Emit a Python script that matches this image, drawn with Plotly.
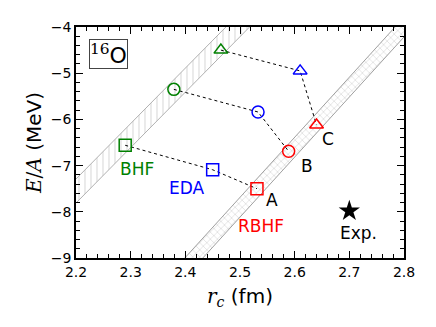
import plotly.graph_objects as go

# r_c (fm) and E/A (MeV) for the three shapes (square, circle, triangle)
bhf_r = [2.290, 2.379, 2.465]
bhf_e = [-6.56, -5.35, -4.50]
eda_r = [2.450, 2.533, 2.610]
eda_e = [-7.09, -5.84, -4.95]
rbhf_r = [2.531, 2.589, 2.640]
rbhf_e = [-7.50, -6.69, -6.12]
exp_r = [2.70]
exp_e = [-7.98]

symbols = ["square-open", "circle-open", "triangle-up-open"]

# Coester-type bands: r where each edge meets E=-9, and slope dE/dr
bhf_band_r0 = [2.0575, 2.1008]
bhf_band_slope = 12.0
rbhf_band_r0 = [2.399, 2.432]
rbhf_band_slope = 13.0


def band_polygon(r0, slope):
    r_lo, r_hi = r0
    # edges run from E=-10 up to E=0, the axes clip them
    xs = [r_lo - 1 / slope, r_lo + 9 / slope, r_hi + 9 / slope, r_hi - 1 / slope, r_lo - 1 / slope]
    ys = [-10, 0, 0, -10, -10]
    return xs, ys


fig = go.Figure()

bx, by = band_polygon(bhf_band_r0, bhf_band_slope)
fig.add_trace(go.Scatter(x=bx, y=by, mode="lines", fill="toself",
                         line=dict(color="#b0b0b0", width=1),
                         fillcolor="white",
                         fillpattern=dict(shape="|", fgcolor="#bbbbbb", bgcolor="white", size=6, solidity=0.2),
                         showlegend=False, hoverinfo="skip"))
rx, ry = band_polygon(rbhf_band_r0, rbhf_band_slope)
fig.add_trace(go.Scatter(x=rx, y=ry, mode="lines", fill="toself",
                         line=dict(color="#a0a0a0", width=1),
                         fillcolor="white",
                         fillpattern=dict(shape="x", fgcolor="#a0a0a0", bgcolor="white", size=5, solidity=0.2),
                         showlegend=False, hoverinfo="skip"))

# dotted connectors BHF -> EDA -> RBHF
for i in range(3):
    fig.add_trace(go.Scatter(x=[bhf_r[i], eda_r[i], rbhf_r[i]], y=[bhf_e[i], eda_e[i], rbhf_e[i]],
                             mode="lines", line=dict(color="black", width=1, dash="dot"),
                             showlegend=False, hoverinfo="skip"))

for rr, ee, col in [(bhf_r, bhf_e, "#008000"), (eda_r, eda_e, "#0000ff"), (rbhf_r, rbhf_e, "#ff0000")]:
    fig.add_trace(go.Scatter(x=rr, y=ee, mode="markers",
                             marker=dict(symbol=symbols, size=12, color=col, line=dict(color=col, width=1.5)),
                             showlegend=False))

fig.add_trace(go.Scatter(x=exp_r, y=exp_e, mode="markers",
                         marker=dict(symbol="star", size=16, color="black", line=dict(width=0)),
                         showlegend=False))

labels = [
    ("BHF", 2.311, -7.07, "#008000"),
    ("EDA", 2.403, -7.48, "#0000ff"),
    ("RBHF", 2.538, -8.30, "#ff0000"),
    ("A", 2.558, -7.74, "black"),
    ("B", 2.622, -7.01, "black"),
    ("C", 2.661, -6.42, "black"),
    ("Exp.", 2.716, -8.46, "black"),
]
for txt, x, y, col in labels:
    fig.add_annotation(x=x, y=y, text=txt, showarrow=False,
                       font=dict(size=17, color=col, family="DejaVu Sans"))

fig.add_annotation(xref="paper", yref="paper", x=0.04, y=0.95, xanchor="left", yanchor="top",
                   text='<span style="font-family:DejaVu Serif"><sup>16</sup></span>O',
                   showarrow=False, font=dict(size=22, color="black", family="DejaVu Sans"),
                   bordercolor="#444444", borderwidth=1, borderpad=0, bgcolor="white")

axis_common = dict(showline=True, linecolor="black", linewidth=1.5, mirror="ticks",
                   ticks="inside", ticklen=7, tickwidth=1, tickcolor="black",
                   showgrid=False, zeroline=False, automargin=False,
                   tickfont=dict(size=14, color="black", family="DejaVu Sans"))

fig.update_xaxes(range=[2.2, 2.8], dtick=0.1, tickformat=".1f",
                 minor=dict(dtick=0.02, ticks="inside", ticklen=4, tickcolor="black"),
                 title=dict(text='<span style="font-family:DejaVu Serif"><i>r<sub>c</sub></i></span> (fm)',
                            font=dict(size=20, color="black", family="DejaVu Sans"), standoff=10),
                 **axis_common)
fig.update_yaxes(range=[-9, -4], dtick=1,
                 minor=dict(dtick=0.2, ticks="inside", ticklen=4, tickcolor="black"),
                 title=dict(text='<span style="font-family:DejaVu Serif"><i>E</i>/<i>A</i></span> (MeV)',
                            font=dict(size=20, color="black", family="DejaVu Sans"), standoff=4),
                 **axis_common)

# the page adds an 8px body margin, so the plot margins are trimmed to match
fig.update_layout(width=436, height=327, margin=dict(l=68, r=40, t=19, b=77),
                  plot_bgcolor="white", paper_bgcolor="white", showlegend=False)

fig.write_html("out.html")
